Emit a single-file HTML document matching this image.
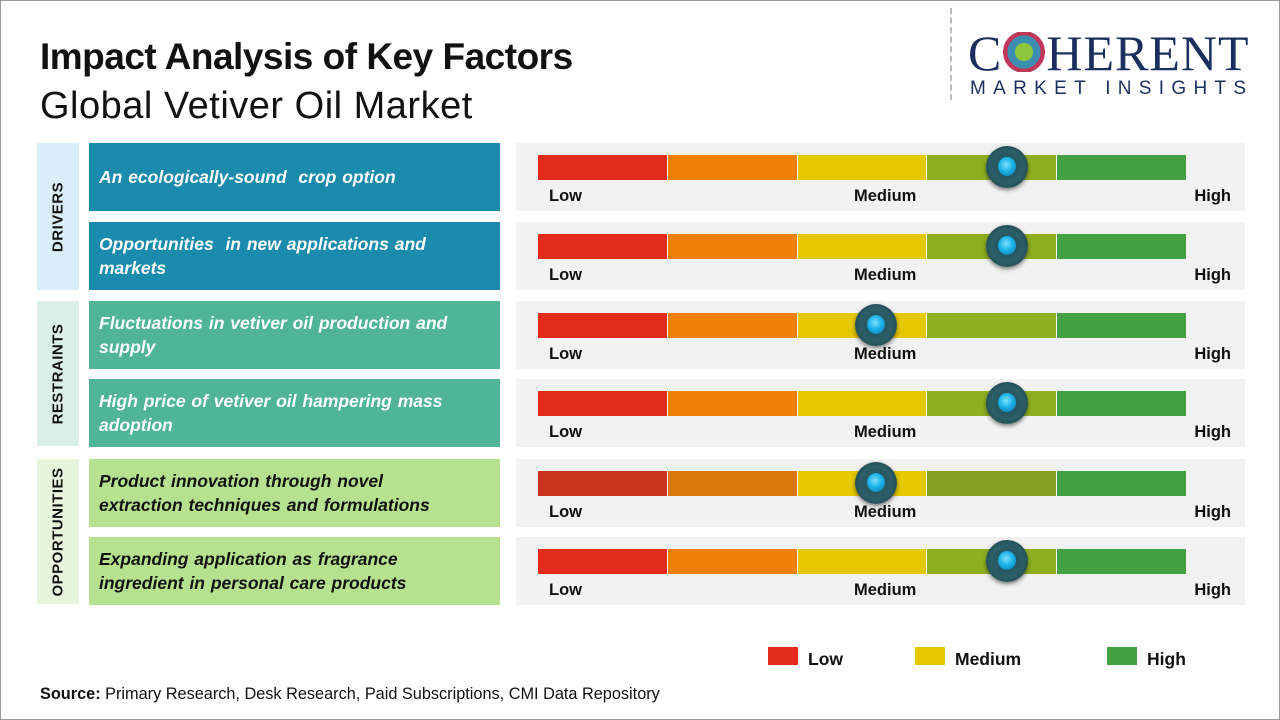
<!DOCTYPE html>
<html><head><meta charset="utf-8"><style>
*{margin:0;padding:0;box-sizing:border-box}
body{width:1280px;height:720px;background:#fff;font-family:"Liberation Sans",sans-serif;position:relative;overflow:hidden}
.frame{position:absolute;left:0;top:0;width:1280px;height:720px;border:1px solid #999}
.a{position:absolute}
.t1{left:40px;top:36px;font-size:37px;font-weight:bold;color:#111;letter-spacing:-0.5px}
.t2{left:40px;top:85px;font-size:38px;color:#111;letter-spacing:0.5px}
.cat{position:absolute;left:37px;width:42px}
.cat span{position:absolute;left:50%;top:50%;transform:translate(-50%,-50%) rotate(-90deg);font-weight:bold;font-size:15px;color:#111;white-space:nowrap;letter-spacing:0.5px}
.lab{position:absolute;left:89px;width:411px;height:68px;display:flex;align-items:center;padding-left:10px;padding-right:30px;font-weight:bold;font-style:italic;font-size:17.5px;line-height:24px;color:#fff;word-spacing:1px}
.pan{position:absolute;left:516px;width:729px;height:68px;background:#f2f2f2}
.bar{position:absolute;left:22px;top:12px;height:25px;width:648px;display:flex}
.bar div{flex:1;border-right:1px solid #fff}
.bar div:last-child{border-right:none}
.lo,.me,.hi{position:absolute;top:44px;font-weight:bold;font-size:16.5px;color:#111}
.lo{left:33px}.me{left:338px}.hi{right:14px}
.knob{position:absolute;top:3px;width:42px;height:42px;border-radius:50%;background:radial-gradient(circle at 50% 50%,#1f4a52 0,#2d5f68 55%,#10343b 100%);box-shadow:0 2px 4px rgba(0,0,0,.5)}
.knob::after{content:"";position:absolute;left:12px;top:11px;width:18px;height:19px;border-radius:50%;background:radial-gradient(circle at 45% 40%,#7fe0ff 0,#1ab2e8 45%,#0a6fa8 100%)}
.leg{position:absolute;top:647px;width:30px;height:18px}
.lt{position:absolute;top:649px;font-size:17.5px;font-weight:bold;color:#111}
</style></head><body>
<div class="frame"></div>
<div class="a t1">Impact Analysis of Key Factors</div>
<div class="a t2">Global Vetiver Oil Market</div>
<div class="a" style="left:950px;top:8px;height:92px;border-left:2px dashed #bbb"></div>
<div class="a" style="left:968px;top:28px;font-family:'Liberation Serif',serif;font-size:50px;color:#1b2f5e;letter-spacing:1px;line-height:50px">C<span style="display:inline-block;width:44px;height:40px;vertical-align:-2px;background:radial-gradient(circle,#8cc63f 0 30%,#3a8fb0 31% 55%,#c0395a 56% 70%,transparent 71%)"></span>HERENT</div>
<div class="a" style="left:970px;top:78px;font-size:19px;color:#1b2f5e;letter-spacing:7.3px">MARKET INSIGHTS</div>

<div class="cat" style="top:143px;height:147px;background:#d9eef8"><span>DRIVERS</span></div>
<div class="cat" style="top:301px;height:145px;background:#dbefe9"><span>RESTRAINTS</span></div>
<div class="cat" style="top:459px;height:145px;background:#e6f5dc"><span>OPPORTUNITIES</span></div>

<div class="lab" style="top:143px;background:#1a8aad">An ecologically-sound&nbsp; crop option</div>
<div class="lab" style="top:222px;background:#1a8aad">Opportunities&nbsp; in new applications and markets</div>
<div class="lab" style="top:301px;background:#50b597">Fluctuations in vetiver oil production and supply</div>
<div class="lab" style="top:379px;background:#50b597">High price of vetiver oil hampering mass adoption</div>
<div class="lab" style="top:459px;background:#b6e28f;color:#111">Product innovation through novel extraction techniques and formulations</div>
<div class="lab" style="top:537px;background:#b6e28f;color:#111">Expanding application as fragrance ingredient in personal care products</div>

<div class="pan" style="top:143px"><div class="bar"><div style="background:#e32b1c"></div><div style="background:#ef8108"></div><div style="background:#e6c800"></div><div style="background:#8faf22"></div><div style="background:#44a142"></div></div><div class="knob" style="left:470px"></div><span class="lo">Low</span><span class="me">Medium</span><span class="hi">High</span></div>
<div class="pan" style="top:222px"><div class="bar"><div style="background:#e32b1c"></div><div style="background:#ef8108"></div><div style="background:#e6c800"></div><div style="background:#8faf22"></div><div style="background:#44a142"></div></div><div class="knob" style="left:470px"></div><span class="lo">Low</span><span class="me">Medium</span><span class="hi">High</span></div>
<div class="pan" style="top:301px"><div class="bar"><div style="background:#e32b1c"></div><div style="background:#ef8108"></div><div style="background:#e6c800"></div><div style="background:#8faf22"></div><div style="background:#44a142"></div></div><div class="knob" style="left:339px"></div><span class="lo">Low</span><span class="me">Medium</span><span class="hi">High</span></div>
<div class="pan" style="top:379px"><div class="bar"><div style="background:#e32b1c"></div><div style="background:#ef8108"></div><div style="background:#e6c800"></div><div style="background:#8faf22"></div><div style="background:#44a142"></div></div><div class="knob" style="left:470px"></div><span class="lo">Low</span><span class="me">Medium</span><span class="hi">High</span></div>
<div class="pan" style="top:459px"><div class="bar"><div style="background:#c8341f"></div><div style="background:#d9780c"></div><div style="background:#e6c800"></div><div style="background:#849f22"></div><div style="background:#44a142"></div></div><div class="knob" style="left:339px"></div><span class="lo">Low</span><span class="me">Medium</span><span class="hi">High</span></div>
<div class="pan" style="top:537px"><div class="bar"><div style="background:#e32b1c"></div><div style="background:#ef8108"></div><div style="background:#e6c800"></div><div style="background:#8faf22"></div><div style="background:#44a142"></div></div><div class="knob" style="left:470px"></div><span class="lo">Low</span><span class="me">Medium</span><span class="hi">High</span></div>

<div class="leg" style="left:768px;background:#e32b1c"></div><div class="lt" style="left:808px">Low</div>
<div class="leg" style="left:915px;background:#e6c800"></div><div class="lt" style="left:955px">Medium</div>
<div class="leg" style="left:1107px;background:#44a142"></div><div class="lt" style="left:1147px">High</div>

<div class="a" style="left:40px;top:685px;font-size:16.3px;color:#111"><b>Source:</b> Primary Research, Desk Research, Paid Subscriptions, CMI Data Repository</div>
</body></html>
